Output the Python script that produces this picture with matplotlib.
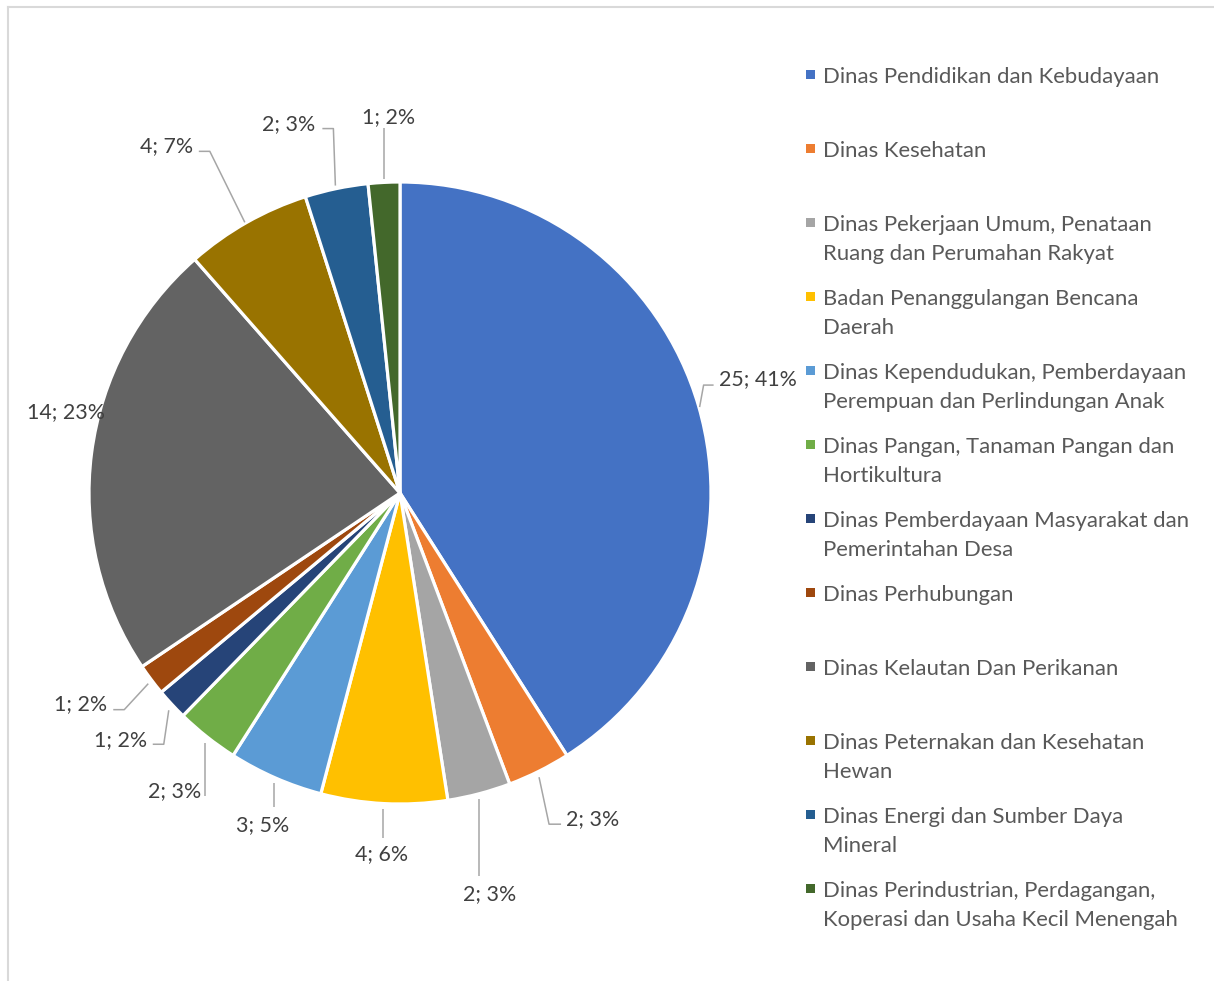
import numpy as np
import matplotlib
matplotlib.use("Agg")
import matplotlib.pyplot as plt
from matplotlib.lines import Line2D
from matplotlib.patches import Rectangle

# data
categories = [
    "Dinas Pendidikan dan Kebudayaan",
    "Dinas Kesehatan",
    "Dinas Pekerjaan Umum, Penataan\nRuang dan Perumahan Rakyat",
    "Badan Penanggulangan Bencana\nDaerah",
    "Dinas Kependudukan, Pemberdayaan\nPerempuan dan Perlindungan Anak",
    "Dinas Pangan, Tanaman Pangan dan\nHortikultura",
    "Dinas Pemberdayaan Masyarakat dan\nPemerintahan Desa",
    "Dinas Perhubungan",
    "Dinas Kelautan Dan Perikanan",
    "Dinas Peternakan dan Kesehatan\nHewan",
    "Dinas Energi dan Sumber Daya\nMineral",
    "Dinas Perindustrian, Perdagangan,\nKoperasi dan Usaha Kecil Menengah",
]
values = [25, 2, 2, 4, 3, 2, 1, 1, 14, 4, 2, 1]
pct_labels = ["41%", "3%", "3%", "6%", "5%", "3%", "2%", "2%", "23%", "7%", "3%", "2%"]

colors = ["#4472C4", "#ED7D31", "#A5A5A5", "#FFC000", "#5B9BD5", "#70AD47",
          "#264478", "#9E480E", "#636363", "#997300", "#255E91", "#43682B"]

# label placement relative to the slice edge (pixels, y down)
layout = [
    dict(txt=(20, -29), ha="left", lead=[(1, 1), (5, -21), (15, -21)]),
    dict(txt=(27, 46), ha="left", lead=[(0, 6), (10, 53), (22, 53)]),
    dict(txt=(10, 98), ha="center", lead=[(0, 5), (0, 82)]),
    dict(txt=(-2, 49), ha="center", lead=[(-1, 5), (-1, 34)]),
    dict(txt=(-13, 45), ha="center", lead=[(-1, 5), (-1, 29)]),
    dict(txt=(-6, 52), ha="right", lead=[(-2, 6), (-2, 59)]),
    dict(txt=(-25, 34), ha="right", lead=[(-3, 6), (-8, 40), (-19, 40)]),
    dict(txt=(-44, 22), ha="right", lead=[(-3, 4), (-27, 30), (-38, 30)]),
    dict(txt=(-26, -43), ha="center", lead=None),
    dict(txt=(-54, -78), ha="right", lead=[(-2, 0), (-37, -71), (-48, -71)]),
    dict(txt=(-21, -66), ha="right", lead=[(-1, -3), (-3, -60), (-14, -60)]),
    dict(txt=(5, -67), ha="center", lead=[(0, -3), (0, -54)]),
]

W, H = 1214, 981
cx, cy, R = 400, 493, 311
FONT = "Lato"

fig = plt.figure(figsize=(W / 100, H / 100), dpi=100)
ax = fig.add_axes([0, 0, 1, 1])

# y axis inverted -> startangle -90 counterclock draws clockwise from the top
ax.pie(values, colors=colors, startangle=-90, counterclock=True,
       center=(cx, cy), radius=R,
       wedgeprops=dict(edgecolor="white", linewidth=2.3))
ax.set_xlim(0, W)
ax.set_ylim(H, 0)
ax.set_aspect("auto")
ax.axis("off")

total = float(sum(values))
cum = 0.0
for v, p, lay in zip(values, pct_labels, layout):
    mid = np.deg2rad(90 - 360 * (cum + v / 2) / total)
    cum += v
    ex, ey = cx + R * np.cos(mid), cy - R * np.sin(mid)
    if lay["lead"]:
        xs = [ex + dx for dx, dy in lay["lead"]]
        ys = [ey + dy for dx, dy in lay["lead"]]
        ax.plot(xs, ys, color="#A6A6A6", lw=1.1, solid_capstyle="butt")
    tx, ty = ex + lay["txt"][0], ey + lay["txt"][1] + 8
    ax.text(tx, ty, "{}; {}".format(v, p), ha=lay["ha"], va="baseline",
            fontsize=15.4, color="#404040", family=FONT)

# legend drawn by hand to keep Excel spacing
for i, (name, col) in enumerate(zip(categories, colors)):
    y0 = 74 + 74 * i
    ax.add_patch(Rectangle((805.5, y0 - 4.5), 9, 9, facecolor=col, edgecolor="none"))
    for k, line in enumerate(name.split("\n")):
        ax.text(823, y0 + 9 + 29 * k, line, ha="left", va="baseline",
                fontsize=15.9, color="#595959", family=FONT)

# chart frame (left and top edges visible)
ax.add_line(Line2D([8, 8], [H, 7], color="#D9D9D9", lw=1.5))
ax.add_line(Line2D([8, W], [7, 7], color="#D9D9D9", lw=1.5))

fig.savefig("out.png", dpi=100, facecolor="white")
